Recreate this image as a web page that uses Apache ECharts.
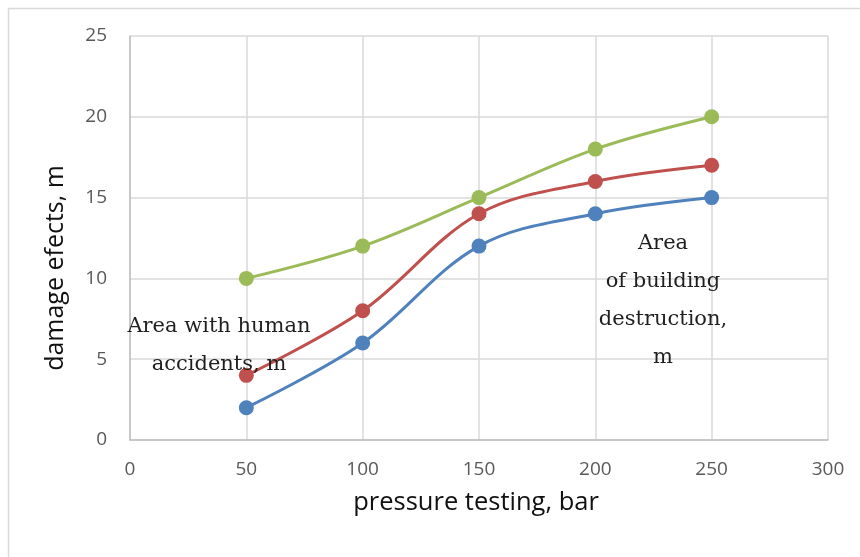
<!DOCTYPE html>
<html>
<head>
<meta charset="utf-8">
<script src="https://cdn.jsdelivr.net/npm/echarts@6/dist/echarts.min.js"></script>
<style>
  html, body { margin: 0; padding: 0; background: #fff; }
  #chart { width: 860px; height: 557px; }
</style>
</head>
<body>
<div id="chart"></div>
<script>
// Pressure (bar) on the x axis
const pressure = [50, 100, 150, 200, 250];
// Damage distances, m
const humanAccidents = [2, 6, 12, 14, 15];
const middleSeries = [4, 8, 14, 16, 17];
const buildingDestruction = [10, 12, 15, 18, 20];

const xTitle = 'pressure testing, bar';
const yTitle = 'damage efects, m';
const leftNote = ['Area with human', 'accidents, m'];
const rightNote = ['Area', 'of building', 'destruction,', 'm'];

const sansFont = '"Open Sans", Lato, sans-serif';
const noteFont = '"DejaVu Serif", "Liberation Serif", serif';

function pairs(values) {
  return pressure.map((p, i) => [p, values[i]]);
}

function lineSeries(name, values, color) {
  return {
    name: name,
    type: 'line',
    data: pairs(values),
    smooth: 0.35,
    symbol: 'circle',
    symbolSize: 15,
    lineStyle: { color: color, width: 3 },
    itemStyle: { color: color },
    emphasis: { disabled: true }
  };
}

function noteLines(lines, cx, firstY, step) {
  return lines.map((t, i) => ({
    type: 'text', z: 10, silent: true,
    x: cx, y: firstY + i * step,
    style: { text: t, font: '21px ' + noteFont, fill: '#1f1f1f', align: 'center', verticalAlign: 'middle' }
  }));
}

const chart = echarts.init(document.getElementById('chart'));
chart.setOption({
  animation: false,
  backgroundColor: '#ffffff',
  grid: { left: 130, top: 36, width: 698, height: 404, containLabel: false },
  xAxis: {
    type: 'value',
    min: 0, max: 300, interval: 50,
    axisLine: { show: true, lineStyle: { color: '#bfbfbf', width: 1.5 } },
    axisTick: { show: false },
    axisLabel: { fontFamily: sansFont, fontSize: 19, color: '#595959', margin: 20 },
    splitLine: { show: true, lineStyle: { color: '#d9d9d9', width: 1.5 } }
  },
  yAxis: {
    type: 'value',
    min: 0, max: 25, interval: 5,
    axisLine: { show: true, lineStyle: { color: '#bfbfbf', width: 1.5 } },
    axisTick: { show: false },
    axisLabel: { fontFamily: sansFont, fontSize: 19, color: '#595959', margin: 23 },
    splitLine: { show: true, lineStyle: { color: '#d9d9d9', width: 1.5 } }
  },
  series: [
    lineSeries('Area with human accidents, m', humanAccidents, '#4F81BD'),
    lineSeries('Intermediate zone, m', middleSeries, '#C0504D'),
    lineSeries('Area of building destruction, m', buildingDestruction, '#9BBB59')
  ],
  graphic: [
    {
      type: 'rect', z: -1, silent: true,
      shape: { x: 8.5, y: 8.5, width: 900, height: 600 },
      style: { fill: 'none', stroke: '#d9d9d9', lineWidth: 1.5 }
    },
    {
      type: 'text', silent: true,
      x: 476, y: 503,
      style: { text: xTitle, font: '25.5px ' + sansFont, fill: '#111', align: 'center', verticalAlign: 'middle' }
    },
    {
      type: 'text', silent: true,
      x: 56, y: 268, rotation: Math.PI / 2,
      style: { text: yTitle, font: '25px ' + sansFont, fill: '#111', align: 'center', verticalAlign: 'middle' }
    }
  ].concat(noteLines(leftNote, 219, 327, 38))
   .concat(noteLines(rightNote, 663, 244, 38))
});
</script>
</body>
</html>
